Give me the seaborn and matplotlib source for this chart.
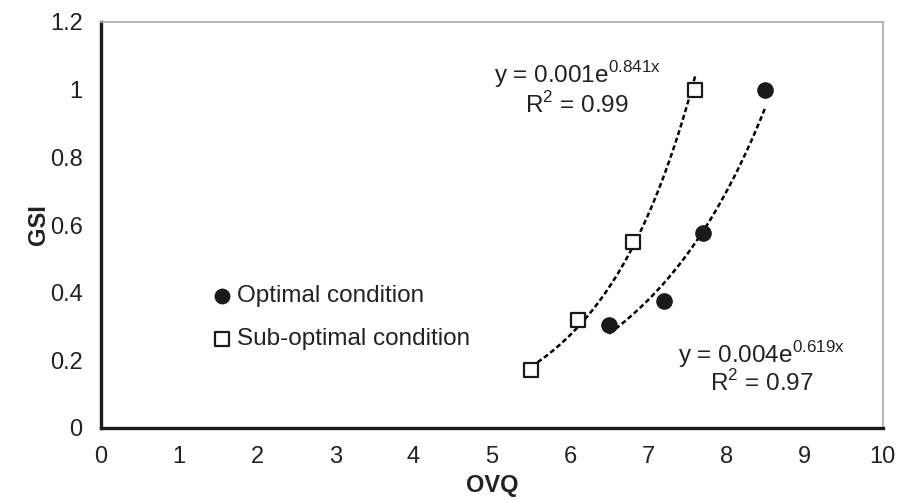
import numpy as np
import pandas as pd
import matplotlib
matplotlib.use("Agg")
import matplotlib.pyplot as plt
import seaborn as sns

# data
opt_x = [6.5, 7.2, 7.7, 8.5]
opt_y = [0.305, 0.375, 0.575, 1.0]
sub_x = [5.5, 6.1, 6.8, 7.6]
sub_y = [0.17, 0.32, 0.55, 1.0]
x_ticks = [0, 1, 2, 3, 4, 5, 6, 7, 8, 9, 10]
y_ticks = [0, 0.2, 0.4, 0.6, 0.8, 1.0, 1.2]
y_tick_labels = ["0", "0.2", "0.4", "0.6", "0.8", "1", "1.2"]

sns.set_theme(style="white")
plt.rcParams['font.family'] = ['Liberation Sans', 'DejaVu Sans']
plt.rcParams['mathtext.fontset'] = 'custom'
plt.rcParams['mathtext.rm'] = 'Liberation Sans'

FS = 17
TC = "#222222"

fig = plt.figure(figsize=(8.99, 5.0), dpi=100)
ax = fig.add_axes([0.112, 0.144, 0.870, 0.812])

def exp_fit(x, y):
    b, lna = np.polyfit(np.array(x), np.log(np.array(y)), 1)
    return np.exp(lna), b

for xs, ys in [(sub_x, sub_y), (opt_x, opt_y)]:
    a, b = exp_fit(xs, ys)
    xx = np.linspace(min(xs), max(xs), 100)
    ax.plot(xx, a * np.exp(b * xx), color="black", lw=1.8, ls=(0, (2, 1.2)), zorder=2)

df = pd.DataFrame({
    "OVQ": opt_x + sub_x,
    "GSI": opt_y + sub_y,
    "cond": ["Optimal condition"] * len(opt_x) + ["Sub-optimal condition"] * len(sub_x),
})
sns.scatterplot(data=df[df.cond == "Optimal condition"], x="OVQ", y="GSI", ax=ax,
                marker="o", s=120, color="#1a1a1a", edgecolor="#1a1a1a", linewidth=1,
                label="Optimal condition", zorder=3)
sns.scatterplot(data=df[df.cond == "Sub-optimal condition"], x="OVQ", y="GSI", ax=ax,
                marker="s", s=100, facecolor="white", edgecolor="#1a1a1a", linewidth=1.6,
                label="Sub-optimal condition", zorder=3)

ax.set_xlim(0, 10)
ax.set_ylim(0, 1.2)
ax.set_xticks(x_ticks)
ax.set_xticklabels([str(t) for t in x_ticks])
ax.set_yticks(y_ticks)
ax.set_yticklabels(y_tick_labels)
ax.tick_params(axis="both", direction="out", length=6, width=1.8, colors="#1a1a1a",
               labelsize=FS, pad=7, labelcolor=TC)

for s in ["left", "bottom"]:
    ax.spines[s].set_color("#1a1a1a")
    ax.spines[s].set_linewidth(2.4)
for s in ["top", "right"]:
    ax.spines[s].set_color("#aaaaaa")
    ax.spines[s].set_linewidth(1.2)

ax.set_xlabel("OVQ", fontsize=FS, fontweight="bold", color=TC, labelpad=4)
ax.set_ylabel("GSI", fontsize=FS, fontweight="bold", color=TC, labelpad=0)

leg = ax.legend(loc="upper left", bbox_to_anchor=(0.111, 0.375), frameon=False,
                fontsize=17.5, handletextpad=-0.35, labelspacing=0.85, markerscale=0.95,
                borderaxespad=0)
for t in leg.get_texts():
    t.set_color(TC)

EFS = 17.5
ax.text(6.09, 1.044, r"y = 0.001e$^{\mathregular{0.841x}}$", fontsize=EFS, ha="center", va="center", color=TC)
ax.text(6.09, 0.955, r"R$^{\mathregular{2}}$ = 0.99", fontsize=EFS, ha="center", va="center", color=TC)
ax.text(8.45, 0.216, r"y = 0.004e$^{\mathregular{0.619x}}$", fontsize=EFS, ha="center", va="center", color=TC)
ax.text(8.45, 0.133, r"R$^{\mathregular{2}}$ = 0.97", fontsize=EFS, ha="center", va="center", color=TC)

fig.savefig("out.png", dpi=100)
